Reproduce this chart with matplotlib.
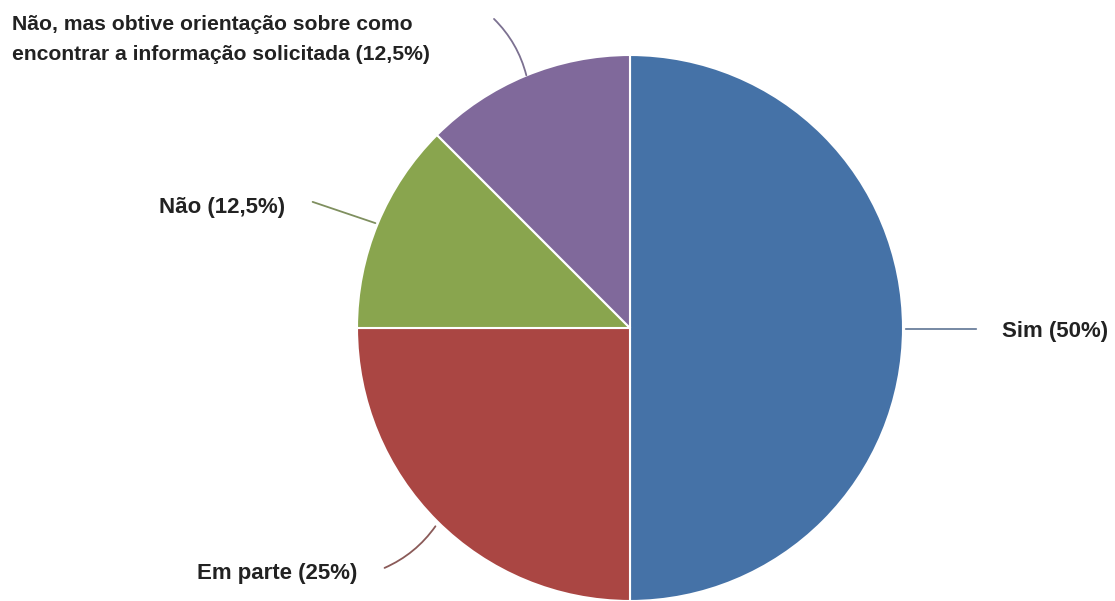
import matplotlib.pyplot as plt

labels = ["Sim (50%)", "Em parte (25%)", "Não (12,5%)",
          "Não, mas obtive orientação sobre como\nencontrar a informação solicitada (12,5%)"]
values = [50, 25, 12.5, 12.5]
colors = ["#4572a7", "#aa4643", "#89a54e", "#80699b"]
line_colors = ["#6b7f9c", "#8a5a58", "#7f8f5f", "#7c7191"]

W, H = 1115, 601
fig = plt.figure(figsize=(W / 100, H / 100), dpi=100)
ax = fig.add_axes([0, 0, 1, 1])

cx, cy, r = 630, H - 328, 273
wedges, _ = ax.pie(values, colors=colors, startangle=90, counterclock=False,
                   center=(cx, cy), radius=r, frame=True,
                   wedgeprops=dict(edgecolor="white", linewidth=1.5))
ax.set_xlim(0, W)
ax.set_ylim(0, H)
ax.axis("off")

# leader lines: start on pie, end near label, curvature
leaders = [
    ((903, 329), (979, 329), 0.0),
    ((437, 524), (382, 569), 0.15),
    ((378, 224), (310, 201), 0.0),
    ((527, 78), (492, 17), -0.15),
]
for (p0, p1, rad), lc in zip(leaders, line_colors):
    ax.annotate("", xy=(p0[0], H - p0[1]), xytext=(p1[0], H - p1[1]),
                arrowprops=dict(arrowstyle="-", color=lc, lw=1.3,
                                connectionstyle=f"arc3,rad={rad}"))

font = dict(family="Liberation Sans", weight="bold", color="#222222")
ax.text(1002, H - 332, labels[0], ha="left", va="center", fontsize=16, **font)
ax.text(357, H - 573, labels[1], ha="right", va="center", fontsize=16, **font)
ax.text(285, H - 208, labels[2], ha="right", va="center", fontsize=16, **font)
ax.text(12, H - 39.5, labels[3], ha="left", va="center", fontsize=15.2,
        linespacing=1.7, **font)

fig.savefig("out.png", dpi=100, facecolor="white")
